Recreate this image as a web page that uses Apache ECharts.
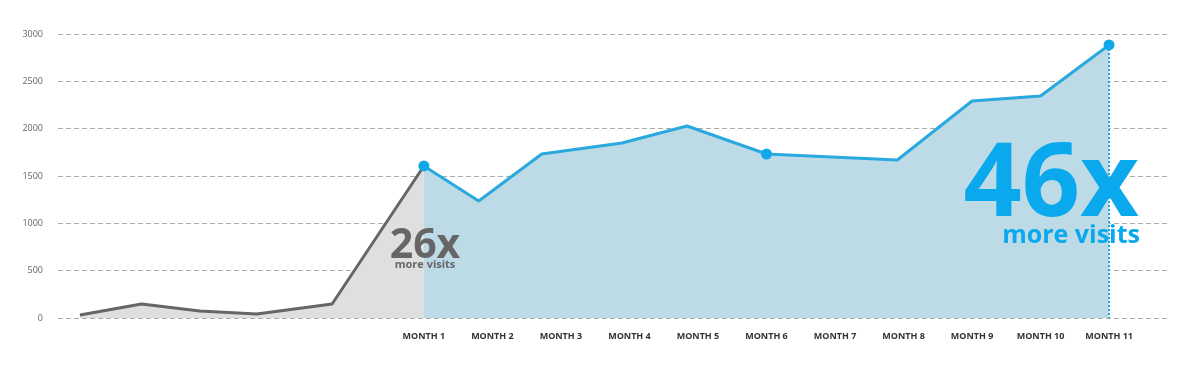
<!DOCTYPE html>
<html>
<head>
<meta charset="utf-8">
<script src="https://cdn.jsdelivr.net/npm/echarts@6/dist/echarts.min.js"></script>
<style>
html,body{margin:0;padding:0;background:#fff;}
#chart{width:1202px;height:370px;}
</style>
</head>
<body>
<div id="chart"></div>
<script>
// x values are in "month" units (Month 1 = 1)
const preX = [-4.02, -3.12, -2.27, -1.44, -0.34, 1];
const preY = [32, 148, 74, 42, 148, 1606];
const postX = [1, 1.8, 2.72, 3.89, 4.84, 6, 7.91, 9, 10, 11];
const postY = [1606, 1236, 1732, 1849, 2028, 1732, 1669, 2292, 2345, 2884];
const monthTicks = [1, 2, 3, 4, 5, 6, 7, 8, 9, 10, 11];
const monthLabels = ['MONTH 1','MONTH 2','MONTH 3','MONTH 4','MONTH 5','MONTH 6','MONTH 7','MONTH 8','MONTH 9','MONTH 10','MONTH 11'];
const highlightX = [1, 6, 11];
const yTicks = [0, 500, 1000, 1500, 2000, 2500, 3000];
const preNote = ['26x', 'more visits'];
const postNote = ['46x', 'more visits'];

const FONT = '"Open Sans", "Noto Sans", sans-serif';
const BLUE = '#1fa8e2';
const preData = preX.map((x, i) => [x, preY[i]]);
const postData = postX.map((x, i) => [x, postY[i]]);
const last = postData[postData.length - 1];

const chart = echarts.init(document.getElementById('chart'), null, {renderer: 'canvas'});
chart.setOption({
  animation: false,
  backgroundColor: '#ffffff',
  grid: {left: 58, right: 34, top: 34, bottom: 52},
  xAxis: {
    type: 'value',
    min: -4.34,
    max: 11.86,
    axisLine: {show: false},
    axisTick: {show: false},
    splitLine: {show: false},
    axisLabel: {
      customValues: monthTicks,
      formatter: v => monthLabels[monthTicks.indexOf(Math.round(v))] || '',
      color: '#333',
      fontFamily: FONT,
      fontWeight: 'bold',
      fontSize: 9,
      margin: 14
    }
  },
  yAxis: {
    type: 'value',
    min: yTicks[0],
    max: yTicks[yTicks.length - 1],
    interval: 500,
    axisLine: {show: false},
    axisTick: {show: false},
    axisLabel: {color: '#666', fontFamily: FONT, fontSize: 9, margin: 15, formatter: v => String(v)},
    splitLine: {lineStyle: {color: '#aaaaaa', type: [5, 3], width: 1}}
  },
  series: [
    {
      type: 'line',
      data: preData,
      symbol: 'none',
      lineStyle: {color: '#666666', width: 3},
      areaStyle: {color: '#dfdfdf', opacity: 1},
      z: 2
    },
    {
      type: 'line',
      data: postData,
      symbol: 'circle',
      symbolSize: (v) => highlightX.includes(v[0]) ? 11 : 0,
      itemStyle: {color: '#12a8e8'},
      lineStyle: {color: '#2aa9de', width: 3},
      areaStyle: {color: '#bcdbe6', opacity: 1},
      z: 3,
      markLine: {
        silent: true,
        symbol: 'none',
        label: {show: false},
        lineStyle: {color: BLUE, type: 'dotted', width: 2},
        data: [[{coord: [last[0], last[1]]}, {coord: [last[0], 0]}]]
      }
    }
  ],
  graphic: [
    {type: 'text', x: 425, y: 246, z: 10,
     style: {text: preNote[0], fill: '#666666', font: 'bold 41px ' + FONT, textAlign: 'center', textVerticalAlign: 'middle'}},
    {type: 'text', x: 425, y: 265, z: 10,
     style: {text: preNote[1], fill: '#666666', font: 'bold 11px ' + FONT, textAlign: 'center', textVerticalAlign: 'middle'}},
    {type: 'text', x: 1139, y: 187, z: 10,
     style: {text: postNote[0], fill: '#0aa9ee', font: 'bold 102px ' + FONT, textAlign: 'right', textVerticalAlign: 'middle'}},
    {type: 'text', x: 1140, y: 236, z: 10,
     style: {text: postNote[1], fill: '#0aa9ee', font: 'bold 25px ' + FONT, textAlign: 'right', textVerticalAlign: 'middle'}}
  ]
});
</script>
</body>
</html>
